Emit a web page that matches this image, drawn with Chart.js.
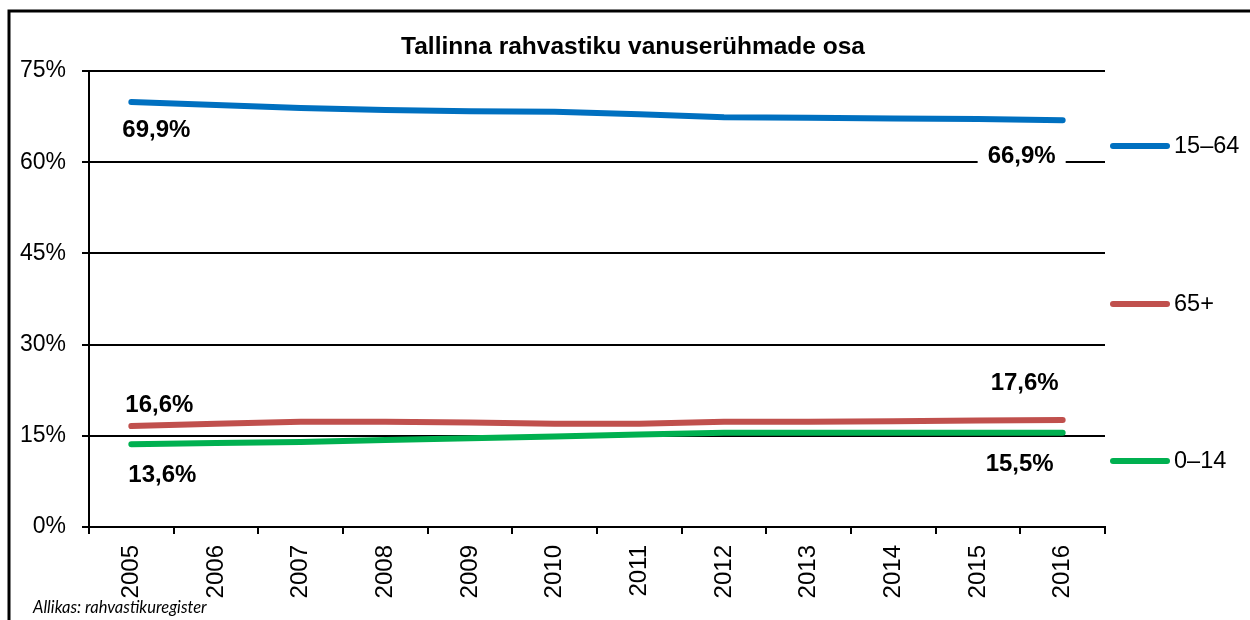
<!DOCTYPE html>
<html>
<head>
<meta charset="utf-8">
<script src="https://cdn.jsdelivr.net/npm/chart.js@4"></script>
<style>
  body { margin: 0; background: #fff; }
  canvas { display: block; }
</style>
</head>
<body>
<canvas id="ageChart" width="1250" height="620"></canvas>
<script>
const years = ["2005", "2006", "2007", "2008", "2009", "2010", "2011", "2012", "2013", "2014", "2015", "2016"];
const working = [69.9, 69.4, 68.9, 68.6, 68.4, 68.3, 67.9, 67.4, 67.3, 67.2, 67.1, 66.9];
const elderly = [16.6, 17.0, 17.3, 17.3, 17.2, 17.0, 17.0, 17.3, 17.3, 17.4, 17.5, 17.6];
const children = [13.6, 13.8, 14.0, 14.3, 14.6, 14.9, 15.2, 15.5, 15.5, 15.5, 15.5, 15.5];
const seriesNames = ["15–64", "65+", "0–14"];
const yTicks = [0, 15, 30, 45, 60, 75];

const FONT = "'Liberation Sans', Arial, sans-serif";

// label placement relative to point: [datasetIndex, pointIndex, dx, dy, whiteBox]
const labelSpots = [
    [0, 0, 25, 28, false],
    [0, 11, -41, 36, true],
    [1, 0, 28, -21, false],
    [1, 11, -38, -37, false],
    [2, 0, 31, 31, false],
    [2, 11, -43, 32, false]
];

// legend rows: y pixel per series
const legendRows = [146, 304, 461];

const fmt = v => v.toFixed(1).replace(".", ",") + "%";

const extras = {
    id: "extras",
    afterDatasetsDraw(chart) {
        const c = chart.ctx;
        c.save();

        // frame
        c.strokeStyle = "#000";
        c.lineWidth = 3;
        c.beginPath();
        c.moveTo(9, 620);
        c.lineTo(9, 11);
        c.lineTo(1250, 11);
        c.stroke();

        // title
        c.fillStyle = "#000";
        c.font = "bold 24.5px " + FONT;
        c.textAlign = "center";
        c.textBaseline = "middle";
        c.fillText("Tallinna rahvastiku vanuserühmade osa", 633, 47);

        // data labels
        c.font = "bold 24px " + FONT;
        labelSpots.forEach(([ds, i, dx, dy, box]) => {
            const pt = chart.getDatasetMeta(ds).data[i];
            const text = fmt(chart.data.datasets[ds].data[i]);
            const x = pt.x + dx, y = pt.y + dy;
            if (box) {
                const w = c.measureText(text).width + 20;
                c.fillStyle = "#fff";
                c.fillRect(x - w / 2, y - 13, w, 26);
            }
            c.fillStyle = "#000";
            c.fillText(text, x, y);
        });

        // legend
        c.textAlign = "left";
        c.font = "23.5px " + FONT;
        c.lineCap = "round";
        chart.data.datasets.forEach((d, k) => {
            const y = legendRows[k];
            c.strokeStyle = d.borderColor;
            c.lineWidth = 6;
            c.beginPath();
            c.moveTo(1113, y);
            c.lineTo(1167, y);
            c.stroke();
            c.fillStyle = "#000";
            c.fillText(seriesNames[k], 1174, y + 1);
        });

        // source
        c.font = "italic 16.5px Lato, 'Open Sans', sans-serif";
        c.fillText("Allikas: rahvastikuregister", 33, 608);

        c.restore();
    }
};

new Chart(document.getElementById("ageChart"), {
    type: "line",
    data: {
        labels: years,
        datasets: [
            { label: seriesNames[0], data: working, borderColor: "#0070c0" },
            { label: seriesNames[1], data: elderly, borderColor: "#c0504d" },
            { label: seriesNames[2], data: children, borderColor: "#00b050" }
        ].map(d => ({ ...d, borderWidth: 6, pointRadius: 0, tension: 0, borderCapStyle: "round", fill: false }))
    },
    options: {
        responsive: false,
        animation: false,
        layout: { padding: { left: 10, right: 145, top: 71, bottom: 13 } },
        plugins: {
            legend: { display: false },
            tooltip: { enabled: false }
        },
        scales: {
            x: {
                offset: true,
                afterFit: s => { s.height = 80; },
                grid: { offset: true, drawOnChartArea: false, color: "#000", lineWidth: 2, tickLength: 7 },
                border: { color: "#000", width: 2 },
                ticks: {
                    minRotation: 90, maxRotation: 90, padding: 11,
                    color: "#000", font: { family: FONT, size: 24 }
                }
            },
            y: {
                min: 0, max: 75,
                afterFit: s => { s.width = 79; },
                afterBuildTicks: s => { s.ticks = yTicks.map(v => ({ value: v })); },
                grid: { color: "#000", lineWidth: 2, tickLength: 7 },
                border: { color: "#000", width: 2 },
                ticks: {
                    padding: 16, color: "#000",
                    font: { family: FONT, size: 23 },
                    callback: v => v + "%"
                }
            }
        }
    },
    plugins: [extras]
});
</script>
</body>
</html>
